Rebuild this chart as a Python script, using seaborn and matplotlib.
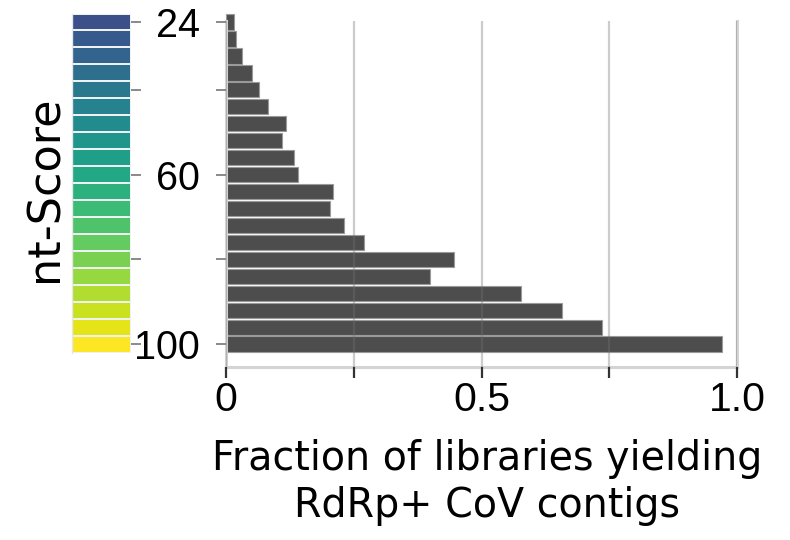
import numpy as np
import pandas as pd
import matplotlib
matplotlib.use("Agg")
import matplotlib.pyplot as plt
import seaborn as sns

# ---- data ----
scores = [24, 28, 32, 36, 40, 44, 48, 52, 56, 60, 64, 68, 72, 76, 80, 84, 88, 92, 96, 100]
fractions = [0.015, 0.019, 0.031, 0.051, 0.065, 0.082, 0.117, 0.109, 0.133, 0.141,
             0.210, 0.203, 0.230, 0.270, 0.447, 0.400, 0.577, 0.658, 0.736, 0.970]
score_ticks = [24, 40, 60, 80, 100]
score_ticklabels = ["24", "", "60", "", "100"]
x_ticks = [0, 0.25, 0.5, 0.75, 1.0]
x_ticklabels = ["0", "", "0.5", "", "1.0"]
xlabel = "Fraction of libraries yielding\nRdRp+ CoV contigs"
ylabel = "nt-Score"

sns.set_theme(style="white")
plt.rcParams["font.family"] = ["DejaVu Sans"]

W, H = 790, 540
fig = plt.figure(figsize=(W / 100, H / 100), dpi=100)

def px_axes(l, t, r, b):
    return fig.add_axes([l / W, 1 - b / H, (r - l) / W, (b - t) / H])

# ---- bar axes ----
ax = px_axes(226, 21, 737, 367)
df = pd.DataFrame({"score": [str(s) for s in scores], "fraction": fractions})
sns.barplot(data=df, x="fraction", y="score", order=[str(s) for s in scores],
            orient="h", color="#4d4d4d", saturation=1, width=0.9,
            edgecolor="#9a9a9a", linewidth=0.8, ax=ax)
for p in ax.patches:
    p.set_facecolor("#4d4d4d")
    p.set_clip_on(False)

ax.set_xlim(0, 1.0)
ax.set_ylim(20.35, -0.06)
ax.set_xticks(x_ticks)
ax.set_xticklabels(x_ticklabels, fontfamily="Liberation Sans", fontsize=29.5)
idx = [scores.index(s) for s in score_ticks]
ax.set_yticks(idx)
ax.set_yticklabels(score_ticklabels, fontfamily="Liberation Sans", fontsize=28.5)
ax.set_xlabel("")
ax.set_ylabel("")
ax.tick_params(axis="x", bottom=True, length=8, width=1.6, color="#333333", pad=2,
               labelcolor="black")
ax.tick_params(axis="y", left=True, length=7, width=1.2, color="#777777", pad=12,
               labelcolor="black")
ax.set_axisbelow(False)
ax.xaxis.grid(True, color=(114 / 255, 114 / 255, 114 / 255), alpha=0.36, linewidth=1.6)
ax.yaxis.grid(False)
for side in ["left", "bottom", "right"]:
    ax.spines[side].set_visible(True)
    ax.spines[side].set_color("#d4d4d4")
    ax.spines[side].set_linewidth(2.2)
ax.spines["top"].set_visible(False)

# ---- colour key ----
axc = px_axes(72, 13.5, 131, 352.5)
sns.heatmap(np.array(scores).reshape(-1, 1), ax=axc, cmap="viridis", vmin=0, vmax=100,
            cbar=False, linewidths=1.3, linecolor="#eef2f2")
axc.set_xticks([])
axc.yaxis.tick_right()
axc.set_yticks([i + 0.5 for i in idx])
axc.set_yticklabels([])
axc.tick_params(axis="y", right=True, left=False, length=7, width=1.2, color="#777777")
axc.spines["left"].set_visible(True)
axc.spines["left"].set_color("#e6e6e6")
axc.spines["left"].set_linewidth(1.0)
axc.set_xlabel("")
axc.set_ylabel("")

# ---- labels ----
fig.text(487 / W, 1 - 439 / H, xlabel, ha="center", va="top", fontsize=28.5,
         linespacing=1.24, color="black")
fig.text(45 / W, 1 - 189 / H, ylabel, ha="center", va="center", rotation=90,
         fontsize=32, color="black")

fig.savefig("out.png", dpi=100)
